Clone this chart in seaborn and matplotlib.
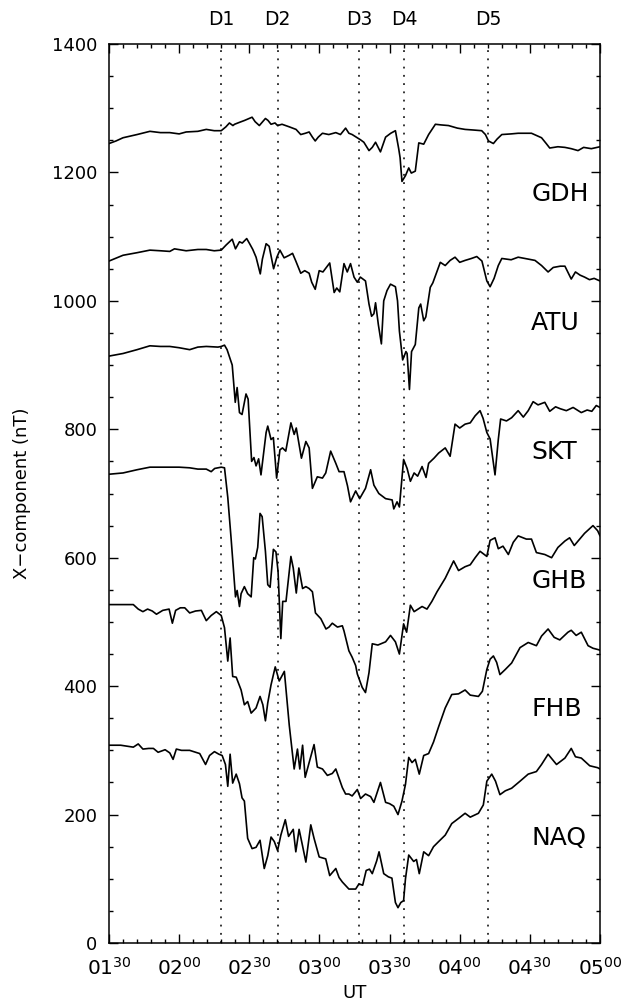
import numpy as np
import pandas as pd
import matplotlib
matplotlib.use("Agg")
import matplotlib.pyplot as plt
import seaborn as sns
from matplotlib.ticker import MultipleLocator, FuncFormatter

# ---------------- data (time in minutes after 01:30 UT, X in nT) ----------------
T0 = 90  # 01:30 UT expressed in minutes of day

stations = ["GDH", "ATU", "SKT", "GHB", "FHB", "NAQ"]

t_gdh = [0, 3, 6, 12, 17.5, 22, 26, 30, 33, 38,
         41.6, 45, 48, 50, 51.5, 53, 53.7, 55.8, 58, 61.2,
         62.5, 64.3, 66.9, 68, 69.3, 71, 72.1, 74, 77.1, 80,
         82, 84, 85.6, 87, 88.2, 89.5, 91.3, 94, 97, 99,
         101.2, 102.6, 104, 106.6, 107.5, 109, 111.2, 112.6, 114, 116.1,
         118.3, 120.5, 122.5, 123.9, 124.5, 125.3, 126.8, 128.2, 129.3, 131,
         132.5, 134.6, 136.7, 139.6, 142, 145.2, 149, 152.3, 156, 159.4,
         161, 162.3, 164.4, 166, 168, 172, 175, 180.7, 185, 187,
         188.5, 192, 195, 197.7, 200.6, 203, 206.3, 210]
x_gdh = [1245, 1249, 1254, 1259, 1264, 1262, 1262, 1260, 1263, 1264,
         1267, 1265, 1265, 1271, 1277, 1273, 1275, 1278, 1281, 1286,
         1279, 1273, 1284, 1281, 1275, 1277, 1273, 1275, 1271, 1267,
         1259, 1261, 1263, 1255, 1249, 1255, 1261, 1259, 1262, 1259,
         1269, 1261, 1259, 1253, 1251, 1247, 1234, 1239, 1247, 1232,
         1255, 1261, 1265, 1237, 1223, 1186, 1195, 1207, 1199, 1202,
         1246, 1244, 1259, 1275, 1274, 1273, 1269, 1267, 1266, 1265,
         1259, 1249, 1245, 1252, 1259, 1260, 1261, 1261, 1254, 1245,
         1238, 1240, 1239, 1237, 1234, 1239, 1237, 1240]

t_atu = [0, 6, 12, 17.5, 22, 26, 28, 33, 38, 41.6,
         45, 48, 50.1, 52.7, 54.1, 55.8, 57, 58.9, 60.3, 61.5,
         62.9, 64.7, 65.6, 67.2, 68.5, 70.4, 71.8, 73.1, 74.9, 77.1,
         78.5, 79.9, 82, 83.7, 85.6, 86.7, 88.2, 89.9, 91.5, 94.4,
         96.3, 97.4, 98.7, 100.5, 101.9, 103.3, 104.8, 106.2, 107.5, 109.7,
         111.2, 112.3, 113.3, 114, 115.2, 116.5, 117.5, 118.9, 120.4, 122.5,
         123.4, 124.2, 125.6, 127, 127.5, 128.5, 129.4, 131, 132.5, 133.3,
         134.6, 135.5, 137.4, 138.5, 141.7, 143.8, 145.9, 148, 150, 152.3,
         155, 157.3, 159.5, 161.6, 163, 164.7, 166.5, 168, 172, 175,
         177.9, 182.2, 185, 187.8, 190, 193, 195, 197.7, 199.5, 201.5,
         203.4, 205.5, 207.5, 210]
x_atu = [1062, 1071, 1075, 1079, 1078, 1077, 1081, 1078, 1080, 1080,
         1078, 1079, 1087, 1096, 1081, 1092, 1090, 1097, 1088, 1080,
         1068, 1042, 1065, 1089, 1085, 1050, 1068, 1079, 1067, 1071,
         1074, 1062, 1043, 1047, 1043, 1029, 1018, 1047, 1045, 1059,
         1013, 1020, 1014, 1058, 1045, 1058, 1037, 1029, 1037, 1031,
         995, 976, 980, 997, 963, 933, 1000, 1016, 1026, 1022,
         1000, 953, 908, 921, 918, 862, 921, 932, 989, 995,
         969, 975, 1021, 1028, 1060, 1055, 1063, 1068, 1060, 1063,
         1066, 1069, 1062, 1031, 1022, 1035, 1055, 1066, 1064, 1068,
         1066, 1063, 1055, 1045, 1052, 1054, 1054, 1034, 1045, 1040,
         1037, 1033, 1035, 1031]

t_skt = [0, 6, 12, 17.5, 22, 26, 30, 34.5, 38, 41.6,
         46.6, 48, 49.4, 50.5, 52.7, 54, 54.8, 55.8, 56.9, 58.6,
         59.5, 61, 62, 62.9, 64, 65, 67.2, 67.9, 69.3, 70.3,
         71.7, 73.1, 74.2, 75.6, 77.8, 79.2, 80.1, 82.3, 84.2, 85.6,
         87, 89.1, 91.3, 92.7, 94.8, 97, 98.4, 100.5, 102, 103.3,
         105.5, 107.2, 109.7, 111.9, 113.3, 115.4, 118.3, 121.1, 121.8, 123.2,
         124.2, 126, 127.5, 128.9, 130.5, 132, 133.9, 135.6, 136.7, 139,
         141, 143.8, 145.9, 148, 150, 152.3, 154.5, 156.6, 158.7, 160,
         161.6, 163, 165.1, 166.5, 167.5, 170, 172.2, 175, 177.2, 179.3,
         181.4, 183.5, 186.4, 188.5, 191, 193, 195.6, 198.5, 202, 204.5,
         206.5, 208.4, 210]
x_skt = [914, 918, 924, 930, 929, 929, 927, 924, 928, 929,
         928, 929, 931, 924, 900, 842, 865, 826, 823, 855,
         847, 750, 756, 743, 754, 729, 795, 805, 784, 787,
         724, 768, 771, 766, 810, 792, 802, 755, 781, 771,
         708, 726, 724, 732, 766, 747, 734, 734, 712, 687,
         704, 692, 708, 737, 713, 700, 692, 690, 676, 687,
         679, 753, 739, 719, 732, 727, 742, 725, 747, 755,
         763, 771, 758, 808, 802, 808, 810, 821, 829, 817,
         795, 785, 729, 784, 816, 813, 818, 829, 819, 829,
         843, 838, 842, 828, 835, 832, 829, 834, 826, 830,
         828, 837, 834]

t_ghb = [0, 6, 12, 17.5, 22, 26, 30, 34.5, 38, 41.6,
         43.7, 45.2, 48, 49.4, 50.8, 52.2, 54.1, 54.8, 55.8, 56.5,
         57.9, 59.3, 60.8, 61.9, 62.6, 63.6, 64.6, 65.5, 66.9, 67.9,
         68.9, 70.3, 71.4, 72.3, 73.5, 74.3, 75.7, 77.8, 78.8, 80.1,
         81.2, 82.8, 84.2, 85.6, 87, 88.3, 90.6, 92.8, 94.1, 95.5,
         97.7, 99.8, 100.5, 102.6, 104, 105.5, 106.2, 108.3, 109.7, 111.2,
         112.6, 115, 118.3, 120.4, 122.5, 124.2, 126, 127.3, 128.9, 130.5,
         133.9, 136, 138.1, 140.3, 143.8, 147.4, 149.5, 152.3, 154.5, 156.6,
         158.7, 161.6, 163, 165.1, 166.5, 168.5, 170.8, 172.9, 175, 178.5,
         180.7, 182.8, 186.4, 189.3, 192, 195, 197, 199, 203.4, 207,
         209, 210]
x_ghb = [730, 732, 737, 741, 741, 741, 741, 740, 738, 738,
         734, 739, 741, 740, 694, 631, 539, 549, 524, 544,
         555, 544, 539, 600, 598, 616, 669, 664, 610, 558,
         554, 613, 609, 579, 474, 532, 532, 602, 584, 545,
         584, 552, 555, 552, 547, 514, 505, 489, 492, 498,
         492, 494, 486, 455, 445, 432, 419, 398, 390, 421,
         466, 464, 469, 479, 469, 450, 497, 484, 526, 516,
         524, 520, 532, 547, 568, 595, 580, 586, 589, 600,
         610, 602, 627, 631, 614, 618, 605, 624, 634, 629,
         629, 608, 605, 600, 616, 626, 631, 619, 638, 650,
         642, 634]

t_fhb = [0, 5, 10.4, 12.5, 14.5, 16.5, 18.5, 20.3, 23, 25.7,
         27.1, 28.5, 30.5, 32.4, 34.5, 37, 39.5, 41.6, 43.7, 45.9,
         48, 49.4, 50.8, 51.8, 52.9, 54.4, 56.5, 57.9, 59.3, 60.8,
         62.9, 64.6, 65.8, 66.9, 67.9, 69.3, 71.1, 72.8, 75, 77.1,
         79.2, 80.6, 81.6, 82.8, 83.9, 85.6, 87.7, 89.1, 91.3, 93.4,
         95.5, 97, 99.8, 101.2, 102.6, 104, 106.2, 107.6, 109.7, 111.9,
         113.3, 116.1, 118.3, 120, 121.8, 123.6, 125.3, 126.8, 128.2, 129.6,
         131, 132.7, 134.6, 136.7, 138.8, 141, 143.8, 146.6, 149.5, 152.3,
         154.5, 158, 159.7, 161.6, 163, 164.4, 165.8, 167.2, 169.5, 172.2,
         175.8, 179.3, 182.8, 185, 187.8, 190.4, 192.8, 196.3, 197.7, 199.8,
         202, 204.9, 207, 209.1, 210]
x_fhb = [527, 527, 527, 520, 516, 520, 517, 512, 518, 520,
         498, 518, 522, 522, 514, 517, 518, 502, 510, 516,
         510, 491, 439, 475, 415, 414, 394, 371, 376, 358,
         366, 384, 371, 346, 374, 402, 430, 408, 423, 339,
         271, 302, 271, 308, 258, 281, 309, 274, 271, 261,
         264, 271, 242, 232, 232, 229, 239, 225, 232, 228,
         219, 250, 219, 217, 213, 200, 221, 247, 289, 281,
         286, 263, 292, 295, 313, 337, 366, 387, 388, 394,
         386, 384, 392, 426, 442, 447, 437, 418, 426, 436,
         460, 468, 463, 478, 489, 476, 472, 484, 487, 479,
         484, 463, 459, 457, 456]

t_naq = [0, 5, 10.4, 12.5, 14.5, 17, 19, 21, 24, 26,
         27.4, 28.8, 31, 34.5, 38.8, 41.3, 43, 45.1, 47, 48.4,
         49.8, 50.8, 51.8, 52.9, 54.4, 55.8, 56.9, 57.9, 59.3, 61.2,
         62.9, 64.6, 66.4, 67.9, 69.3, 70.7, 72.1, 73.5, 75.4, 76.8,
         78.8, 79.9, 81.3, 82.8, 84.2, 86.3, 87.7, 89.9, 92.7, 94.4,
         97, 98.4, 99.8, 102.6, 104, 105.5, 106.9, 108.5, 110, 111.4,
         112.6, 114.5, 115.5, 117.5, 119.5, 121, 122.5, 123.6, 124.8, 126,
         126.8, 128.2, 130.3, 131.5, 132.7, 134.6, 136.7, 138.8, 141, 143.8,
         146.6, 149.5, 152.3, 154.5, 158, 160.1, 161.6, 163.7, 165.3, 167.2,
         169.5, 172.2, 175.8, 179.3, 182.8, 185, 187.8, 191.4, 195, 197.7,
         199.5, 202, 205.6, 209, 210]
x_naq = [308, 308, 305, 310, 302, 303, 303, 297, 301, 296,
         286, 302, 300, 300, 295, 278, 292, 298, 294, 292,
         278, 244, 294, 249, 263, 248, 226, 221, 163, 147,
         149, 160, 116, 136, 165, 158, 144, 168, 192, 166,
         177, 142, 177, 151, 126, 184, 163, 134, 131, 105,
         116, 102, 95, 84, 84, 84, 92, 90, 113, 115,
         108, 128, 142, 108, 103, 101, 63, 55, 63, 66,
         100, 137, 127, 130, 108, 142, 136, 150, 158, 168,
         186, 194, 202, 196, 202, 215, 252, 263, 252, 231,
         237, 241, 252, 263, 267, 278, 294, 278, 288, 303,
         290, 288, 276, 273, 271]

event_names = ["D1", "D2", "D3", "D4", "D5"]
event_t = [48.0, 72.1, 106.9, 126.2, 162.3]

label_t = 180.6
label_x = [1167, 966, 765, 564, 364, 164]

# ---------------- build long table ----------------
times = [t_gdh, t_atu, t_skt, t_ghb, t_fhb, t_naq]
vals = [x_gdh, x_atu, x_skt, x_ghb, x_fhb, x_naq]
frames = []
for name, t, v in zip(stations, times, vals):
    frames.append(pd.DataFrame({"station": name,
                                "UT": T0 + np.asarray(t, dtype=float),
                                "X": np.asarray(v, dtype=float)}))
df = pd.concat(frames, ignore_index=True)

# ---------------- style ----------------
sns.set_theme(style="ticks")
plt.rcParams["font.family"] = ["DejaVu Sans"]
plt.rcParams["mathtext.default"] = "regular"
for k in ["axes.edgecolor", "xtick.color", "ytick.color", "text.color", "axes.labelcolor"]:
    plt.rcParams[k] = "black"

fig = plt.figure(figsize=(6.27, 10.06), dpi=100)
ax = fig.add_axes([109 / 627, 1 - 943 / 1006, 491 / 627, 899 / 1006])

sns.lineplot(data=df, x="UT", y="X", units="station", estimator=None, sort=False,
             color="black", lw=1.2, ax=ax, legend=False)

for n, t in zip(event_names, event_t):
    ax.axvline(T0 + t, color="black", lw=1.1, ls=(0, (1.2, 4.2)), zorder=1)
    ax.text(T0 + t, 1.027, n, transform=ax.get_xaxis_transform(),
            ha="center", va="center", fontsize=13.5)

for name, v in zip(stations, label_x):
    ax.text(T0 + label_t, v, name, ha="left", va="center", fontsize=18)

ax.set_xlim(90, 300)
ax.set_ylim(0, 1400)
ax.xaxis.set_major_locator(MultipleLocator(30))
ax.xaxis.set_minor_locator(MultipleLocator(6))
ax.yaxis.set_major_locator(MultipleLocator(200))
ax.yaxis.set_minor_locator(MultipleLocator(50))
ax.xaxis.set_major_formatter(FuncFormatter(
    lambda x, _: rf"${int(round(x)) // 60:02d}^{{{int(round(x)) % 60:02d}}}$"))

ax.tick_params(which="both", direction="in", top=True, right=True, width=1.0)
ax.tick_params(which="major", length=6.5)
ax.tick_params(which="minor", length=3.2)
ax.tick_params(axis="y", pad=8.5, labelsize=13)
ax.tick_params(axis="x", pad=10, labelsize=14.5)
for s in ax.spines.values():
    s.set_linewidth(1.1)
    s.set_color("black")

ax.set_xlabel("UT", fontsize=13, va="center")
ax.xaxis.set_label_coords(0.5, -(993 - 943) / 899)
ax.set_ylabel("X\u2212component (nT)", fontsize=13, va="center")
ax.yaxis.set_label_coords(-(109 - 22) / 491, (943 - 493) / 899)

fig.savefig("out.png", dpi=100)
